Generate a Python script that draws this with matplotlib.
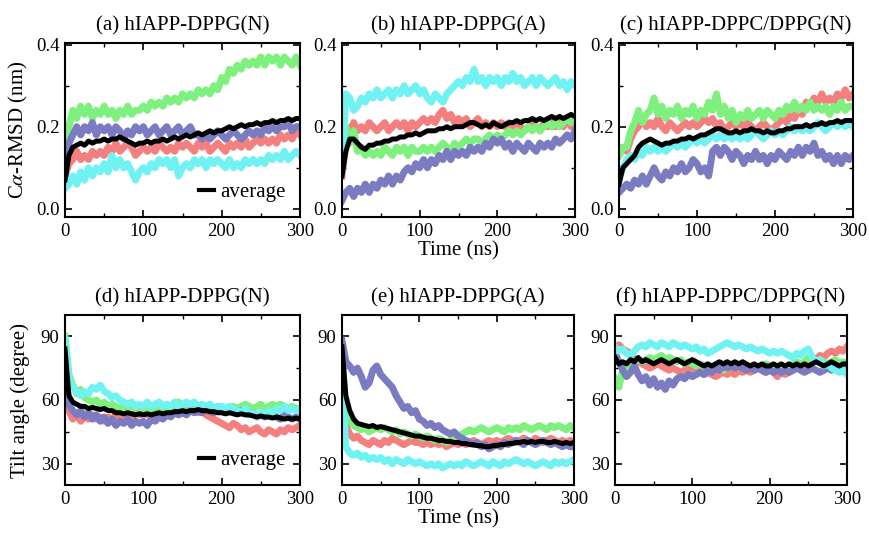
import numpy as np
import matplotlib.pyplot as plt
from matplotlib.ticker import MultipleLocator

# ---- data: values read every 5 ns from 0 to 300 ns -------------------
# (a) RMSD, hIAPP-DPPG(N)
A_RED = [0.08, 0.11, 0.12, 0.14, 0.12, 0.13, 0.12, 0.14, 0.13, 0.14, 0.13, 0.15, 0.14, 0.16, 0.14, 0.15,
         0.16, 0.15, 0.13, 0.14, 0.15, 0.14, 0.15, 0.14, 0.16, 0.15, 0.14, 0.15, 0.14, 0.16, 0.15, 0.16,
         0.15, 0.14, 0.16, 0.15, 0.16, 0.14, 0.15, 0.16, 0.15, 0.14, 0.16, 0.15, 0.16, 0.15, 0.17, 0.15,
         0.16, 0.17, 0.16, 0.17, 0.16, 0.17, 0.16, 0.18, 0.17, 0.18, 0.17, 0.19, 0.18]
A_GREEN = [0.10, 0.20, 0.24, 0.22, 0.25, 0.23, 0.25, 0.22, 0.24, 0.23, 0.25, 0.23, 0.24, 0.22, 0.24, 0.23,
           0.25, 0.23, 0.24, 0.24, 0.25, 0.24, 0.26, 0.25, 0.26, 0.25, 0.27, 0.26, 0.27, 0.26, 0.28, 0.27,
           0.28, 0.27, 0.29, 0.28, 0.29, 0.28, 0.30, 0.29, 0.32, 0.31, 0.34, 0.33, 0.35, 0.34, 0.36, 0.35,
           0.36, 0.35, 0.37, 0.35, 0.37, 0.36, 0.37, 0.35, 0.37, 0.36, 0.35, 0.37, 0.35]
A_BLUE = [0.07, 0.16, 0.18, 0.20, 0.18, 0.20, 0.19, 0.21, 0.18, 0.20, 0.19, 0.20, 0.18, 0.20, 0.19, 0.17,
          0.19, 0.18, 0.20, 0.19, 0.20, 0.18, 0.19, 0.20, 0.18, 0.19, 0.20, 0.18, 0.19, 0.20, 0.18, 0.19,
          0.20, 0.18, 0.18, 0.17, 0.18, 0.17, 0.18, 0.19, 0.18, 0.17, 0.18, 0.19, 0.18, 0.17, 0.18, 0.19,
          0.18, 0.19, 0.18, 0.20, 0.19, 0.20, 0.19, 0.20, 0.20, 0.21, 0.19, 0.20, 0.20]
A_CYAN = [0.05, 0.06, 0.08, 0.06, 0.09, 0.07, 0.10, 0.08, 0.10, 0.09, 0.11, 0.09, 0.13, 0.10, 0.12, 0.10,
          0.11, 0.09, 0.07, 0.09, 0.10, 0.09, 0.11, 0.10, 0.12, 0.11, 0.12, 0.10, 0.12, 0.08, 0.10, 0.11,
          0.10, 0.12, 0.11, 0.12, 0.10, 0.12, 0.11, 0.12, 0.11, 0.10, 0.12, 0.10, 0.11, 0.10, 0.12, 0.11,
          0.12, 0.11, 0.12, 0.11, 0.13, 0.12, 0.13, 0.12, 0.14, 0.12, 0.13, 0.14, 0.13]
A_AVG = [0.07, 0.13, 0.15, 0.155, 0.16, 0.155, 0.165, 0.16, 0.165, 0.165, 0.17, 0.165, 0.17, 0.17, 0.175,
         0.17, 0.165, 0.16, 0.155, 0.16, 0.16, 0.165, 0.16, 0.165, 0.165, 0.17, 0.165, 0.17, 0.175, 0.17,
         0.175, 0.18, 0.175, 0.18, 0.185, 0.18, 0.185, 0.19, 0.185, 0.19, 0.19, 0.195, 0.20, 0.195, 0.20,
         0.205, 0.20, 0.205, 0.205, 0.21, 0.205, 0.21, 0.21, 0.215, 0.21, 0.215, 0.215, 0.22, 0.215, 0.22, 0.22]

# (b) RMSD, hIAPP-DPPG(A)
B_RED = [0.08, 0.16, 0.19, 0.21, 0.19, 0.20, 0.19, 0.21, 0.20, 0.19, 0.20, 0.21, 0.19, 0.20, 0.21, 0.20,
         0.21, 0.19, 0.21, 0.20, 0.21, 0.22, 0.21, 0.22, 0.21, 0.23, 0.24, 0.22, 0.23, 0.21, 0.22, 0.21,
         0.22, 0.20, 0.21, 0.22, 0.20, 0.21, 0.20, 0.21, 0.20, 0.21, 0.20, 0.21, 0.20, 0.21, 0.20, 0.19,
         0.20, 0.21, 0.20, 0.19, 0.21, 0.20, 0.21, 0.20, 0.21, 0.20, 0.22, 0.20, 0.21]
B_GREEN = [0.10, 0.20, 0.16, 0.19, 0.14, 0.15, 0.13, 0.14, 0.13, 0.14, 0.13, 0.15, 0.14, 0.13, 0.15, 0.14,
           0.15, 0.13, 0.15, 0.14, 0.14, 0.15, 0.14, 0.15, 0.14, 0.15, 0.16, 0.15, 0.14, 0.16, 0.15, 0.16,
           0.17, 0.16, 0.17, 0.17, 0.16, 0.17, 0.18, 0.17, 0.18, 0.17, 0.18, 0.19, 0.18, 0.19, 0.18, 0.19,
           0.20, 0.19, 0.20, 0.19, 0.20, 0.21, 0.20, 0.21, 0.20, 0.21, 0.22, 0.21, 0.22]
B_BLUE = [0.02, 0.04, 0.05, 0.03, 0.05, 0.04, 0.06, 0.04, 0.06, 0.05, 0.07, 0.06, 0.08, 0.06, 0.08, 0.07,
          0.09, 0.10, 0.09, 0.11, 0.10, 0.12, 0.10, 0.12, 0.11, 0.13, 0.12, 0.14, 0.12, 0.14, 0.13, 0.14,
          0.13, 0.15, 0.14, 0.15, 0.14, 0.16, 0.15, 0.17, 0.16, 0.17, 0.15, 0.16, 0.14, 0.16, 0.15, 0.14,
          0.16, 0.15, 0.14, 0.16, 0.15, 0.16, 0.15, 0.17, 0.16, 0.17, 0.18, 0.17, 0.19]
B_CYAN = [0.10, 0.28, 0.27, 0.24, 0.25, 0.27, 0.26, 0.28, 0.27, 0.29, 0.27, 0.28, 0.29, 0.27, 0.29, 0.28,
          0.30, 0.28, 0.29, 0.30, 0.28, 0.29, 0.27, 0.26, 0.28, 0.27, 0.26, 0.28, 0.29, 0.30, 0.31, 0.30,
          0.32, 0.31, 0.34, 0.31, 0.32, 0.30, 0.32, 0.31, 0.32, 0.30, 0.32, 0.31, 0.33, 0.31, 0.32, 0.30,
          0.31, 0.32, 0.30, 0.32, 0.31, 0.30, 0.31, 0.32, 0.30, 0.31, 0.29, 0.31, 0.30]
B_AVG = [0.08, 0.14, 0.17, 0.17, 0.16, 0.15, 0.145, 0.155, 0.155, 0.16, 0.16, 0.165, 0.165, 0.17, 0.17,
         0.175, 0.175, 0.18, 0.18, 0.185, 0.18, 0.185, 0.19, 0.19, 0.19, 0.195, 0.195, 0.20, 0.195, 0.20,
         0.20, 0.20, 0.205, 0.21, 0.21, 0.205, 0.20, 0.205, 0.20, 0.21, 0.205, 0.20, 0.205, 0.21, 0.21,
         0.215, 0.21, 0.215, 0.215, 0.22, 0.215, 0.22, 0.215, 0.22, 0.225, 0.22, 0.225, 0.22, 0.225, 0.23, 0.225]

# (c) RMSD, hIAPP-DPPC/DPPG(N)
C_RED = [0.13, 0.15, 0.14, 0.17, 0.19, 0.20, 0.22, 0.20, 0.21, 0.20, 0.22, 0.20, 0.19, 0.21, 0.20, 0.19,
         0.20, 0.21, 0.20, 0.21, 0.20, 0.21, 0.22, 0.21, 0.22, 0.20, 0.21, 0.19, 0.20, 0.21, 0.20, 0.21,
         0.20, 0.21, 0.20, 0.19, 0.20, 0.21, 0.20, 0.19, 0.20, 0.21, 0.22, 0.21, 0.23, 0.22, 0.24, 0.23,
         0.26, 0.25, 0.27, 0.26, 0.28, 0.26, 0.27, 0.26, 0.28, 0.27, 0.29, 0.27, 0.28]
C_GREEN = [0.13, 0.15, 0.15, 0.19, 0.21, 0.24, 0.21, 0.23, 0.24, 0.27, 0.23, 0.25, 0.22, 0.24, 0.23, 0.25,
           0.22, 0.24, 0.23, 0.25, 0.22, 0.24, 0.23, 0.26, 0.24, 0.28, 0.23, 0.25, 0.22, 0.24, 0.21, 0.23,
           0.22, 0.24, 0.22, 0.23, 0.24, 0.22, 0.24, 0.23, 0.22, 0.24, 0.23, 0.25, 0.24, 0.26, 0.24, 0.25,
           0.24, 0.26, 0.24, 0.25, 0.24, 0.25, 0.23, 0.25, 0.24, 0.26, 0.24, 0.25, 0.25]
C_BLUE = [0.04, 0.05, 0.06, 0.05, 0.07, 0.06, 0.08, 0.06, 0.08, 0.10, 0.08, 0.07, 0.09, 0.08, 0.10, 0.09,
          0.11, 0.09, 0.10, 0.12, 0.11, 0.09, 0.10, 0.08, 0.14, 0.15, 0.13, 0.15, 0.14, 0.12, 0.14, 0.13,
          0.11, 0.13, 0.12, 0.14, 0.12, 0.13, 0.11, 0.13, 0.12, 0.14, 0.13, 0.12, 0.14, 0.13, 0.15, 0.13,
          0.15, 0.14, 0.16, 0.13, 0.14, 0.12, 0.13, 0.11, 0.13, 0.11, 0.13, 0.12, 0.13]
C_CYAN = [0.07, 0.10, 0.12, 0.13, 0.12, 0.14, 0.13, 0.15, 0.14, 0.15, 0.14, 0.15, 0.14, 0.15, 0.16, 0.15,
          0.16, 0.15, 0.16, 0.17, 0.16, 0.17, 0.16, 0.17, 0.18, 0.17, 0.18, 0.17, 0.18, 0.17, 0.18, 0.17,
          0.18, 0.17, 0.18, 0.19, 0.18, 0.17, 0.18, 0.19, 0.18, 0.19, 0.18, 0.19, 0.20, 0.19, 0.20, 0.19,
          0.20, 0.19, 0.20, 0.21, 0.20, 0.19, 0.20, 0.21, 0.20, 0.21, 0.20, 0.21, 0.20]
C_AVG = [0.06, 0.10, 0.11, 0.12, 0.13, 0.15, 0.16, 0.165, 0.17, 0.165, 0.16, 0.155, 0.16, 0.16, 0.165,
         0.165, 0.17, 0.17, 0.175, 0.17, 0.175, 0.18, 0.18, 0.185, 0.19, 0.195, 0.195, 0.19, 0.185, 0.185,
         0.19, 0.185, 0.19, 0.19, 0.195, 0.19, 0.19, 0.185, 0.19, 0.185, 0.185, 0.19, 0.19, 0.195, 0.195,
         0.20, 0.20, 0.20, 0.205, 0.20, 0.205, 0.205, 0.21, 0.205, 0.21, 0.21, 0.215, 0.21, 0.215, 0.215, 0.215]

# (d) tilt angle, hIAPP-DPPG(N)
D_RED = [80, 55, 51, 53, 50, 52, 51, 53, 51, 52, 50, 52, 51, 53, 52, 51, 53, 52, 54, 53, 54, 53, 55, 54,
         53, 55, 54, 55, 54, 56, 55, 54, 56, 55, 54, 55, 53, 52, 51, 50, 49, 48, 47, 49, 48, 46, 47, 45,
         46, 47, 45, 44, 46, 45, 44, 46, 45, 47, 46, 47, 48]
D_GREEN = [90, 72, 67, 63, 65, 61, 60, 59, 60, 58, 59, 57, 58, 57, 56, 57, 56, 57, 56, 57, 56, 57, 55, 56,
           57, 56, 57, 56, 58, 59, 57, 56, 57, 56, 57, 56, 57, 55, 56, 57, 56, 55, 56, 57, 56, 57, 58, 57,
           56, 57, 58, 56, 57, 58, 57, 58, 57, 56, 57, 56, 56]
D_BLUE = [75, 58, 55, 53, 55, 52, 54, 51, 53, 50, 52, 49, 51, 48, 50, 49, 51, 48, 50, 49, 50, 48, 51, 50,
          52, 51, 53, 52, 54, 53, 54, 53, 55, 54, 55, 54, 56, 55, 54, 56, 55, 54, 56, 55, 54, 55, 54, 53,
          54, 52, 53, 52, 54, 53, 52, 51, 53, 52, 51, 52, 51]
D_CYAN = [88, 70, 66, 64, 62, 64, 63, 66, 65, 67, 64, 63, 61, 62, 60, 59, 58, 59, 57, 58, 57, 59, 57, 58,
          59, 57, 58, 57, 59, 57, 58, 59, 58, 59, 57, 58, 57, 58, 56, 57, 57, 56, 57, 56, 55, 54, 56, 53,
          54, 52, 54, 53, 55, 54, 56, 55, 57, 55, 56, 55, 56]
D_AVG = [84, 62, 59, 58, 57, 57, 56, 56.5, 56, 55.5, 56, 55, 55, 54, 54, 53.5, 54, 53.5, 53, 53.5, 53, 53.5,
         53, 53.5, 54, 53.5, 54, 54, 54.5, 54.5, 55, 54.5, 55, 55, 55.5, 55, 55, 54.5, 54.5, 54, 54, 53.5,
         54, 53.5, 53, 53.5, 53, 53, 52.5, 52, 52.5, 52, 52, 51.5, 52, 51.5, 51, 51.5, 51, 51.5, 51]

# (e) tilt angle, hIAPP-DPPG(A)
E_RED = [75, 48, 44, 42, 43, 41, 40, 39, 41, 40, 39, 41, 40, 42, 41, 40, 39, 40, 41, 40, 40, 39, 40, 39,
         40, 39, 40, 38, 39, 40, 39, 40, 39, 40, 41, 40, 39, 40, 41, 40, 41, 40, 41, 42, 41, 40, 41, 42,
         41, 40, 42, 41, 40, 41, 42, 41, 40, 41, 40, 41, 40]
E_GREEN = [80, 55, 51, 48, 47, 46, 47, 45, 46, 47, 46, 47, 46, 45, 46, 44, 45, 44, 43, 44, 43, 42, 43, 42,
           41, 42, 41, 40, 41, 42, 43, 44, 45, 46, 45, 46, 47, 46, 45, 46, 47, 46, 45, 47, 46, 47, 46, 48,
           47, 46, 47, 48, 47, 46, 48, 47, 48, 47, 46, 48, 47]
E_BLUE = [88, 78, 76, 73, 75, 71, 66, 68, 74, 76, 72, 70, 68, 66, 62, 59, 56, 57, 54, 55, 51, 50, 48, 49,
          47, 48, 46, 45, 44, 45, 43, 42, 41, 40, 39, 40, 38, 39, 37, 38, 39, 38, 40, 39, 40, 41, 40, 39,
          41, 40, 39, 40, 41, 40, 39, 40, 39, 38, 39, 38, 38]
E_CYAN = [70, 38, 35, 34, 35, 33, 34, 32, 33, 32, 33, 31, 32, 30, 32, 31, 30, 32, 31, 30, 31, 30, 29, 30,
          29, 30, 28, 29, 30, 29, 30, 29, 31, 30, 29, 30, 31, 30, 29, 31, 30, 29, 31, 30, 31, 32, 31, 30,
          31, 30, 29, 30, 31, 30, 29, 31, 30, 31, 30, 31, 32]
E_AVG = [85, 62, 55, 51, 49, 48.5, 48, 47.5, 48, 47, 47.5, 47, 46.5, 46, 45.5, 45, 44.5, 44, 43.5, 43, 43,
         42.5, 42, 42, 41.5, 41, 41, 40.5, 40.5, 40, 40, 39.5, 39.5, 39, 39, 38.5, 38.5, 38, 38, 38.5, 38.5,
         39, 39, 39.5, 39.5, 40, 40, 40.5, 40, 40.5, 40, 40.5, 40.5, 40, 40, 40.5, 40, 39.5, 40, 39.5, 40]

# (f) tilt angle, hIAPP-DPPC/DPPG(N)
F_RED = [82, 86, 84, 83, 82, 79, 78, 77, 76, 75, 76, 77, 76, 75, 74, 75, 74, 73, 74, 75, 74, 73, 74, 72,
         73, 72, 71, 72, 73, 72, 73, 72, 74, 73, 74, 73, 74, 75, 74, 73, 74, 73, 71, 73, 72, 73, 74, 75,
         76, 75, 78, 80, 79, 81, 80, 82, 83, 82, 84, 83, 85]
F_GREEN = [70, 66, 74, 76, 77, 78, 79, 78, 79, 80, 79, 80, 81, 79, 80, 79, 78, 79, 77, 78, 77, 76, 77, 76,
           75, 74, 75, 76, 74, 75, 76, 75, 76, 77, 76, 75, 76, 75, 76, 77, 76, 75, 74, 76, 75, 76, 77, 78,
           77, 78, 80, 79, 78, 79, 78, 77, 78, 79, 77, 78, 77]
F_BLUE = [82, 78, 74, 71, 73, 76, 72, 69, 71, 67, 70, 66, 68, 65, 69, 67, 70, 71, 70, 72, 71, 72, 73, 72,
          74, 73, 75, 74, 76, 75, 76, 75, 76, 75, 74, 75, 74, 75, 74, 73, 74, 73, 74, 73, 74, 73, 74, 75,
          74, 73, 74, 75, 74, 73, 74, 75, 74, 75, 74, 75, 74]
F_CYAN = [85, 83, 84, 82, 81, 83, 85, 86, 85, 87, 86, 85, 87, 86, 85, 87, 86, 85, 86, 85, 84, 85, 83, 84,
          82, 83, 84, 85, 86, 87, 86, 85, 86, 85, 84, 85, 84, 83, 84, 83, 82, 83, 82, 83, 82, 81, 80, 82,
          81, 83, 84, 80, 78, 79, 76, 77, 75, 74, 73, 74, 72]
F_AVG = [80, 77, 78, 77, 79, 78, 80, 78, 79, 78, 77, 78, 79, 78, 77, 78, 79, 78, 77, 78, 79, 78, 77, 76,
         77, 76, 77, 78, 77, 78, 77, 78, 77, 78, 77, 76, 77, 76, 77, 76, 76, 77, 76, 77, 76, 77, 76, 77,
         76, 77, 76, 77, 78, 77, 76, 77, 78, 77, 76, 77, 77]

TITLES = ['(a) hIAPP-DPPG(N)', '(b) hIAPP-DPPG(A)', '(c) hIAPP-DPPC/DPPG(N)',
          '(d) hIAPP-DPPG(N)', '(e) hIAPP-DPPG(A)', '(f) hIAPP-DPPC/DPPG(N)']
PANELS = [
    (A_RED, A_GREEN, A_BLUE, A_CYAN, A_AVG),
    (B_RED, B_GREEN, B_BLUE, B_CYAN, B_AVG),
    (C_RED, C_GREEN, C_BLUE, C_CYAN, C_AVG),
    (D_RED, D_GREEN, D_BLUE, D_CYAN, D_AVG),
    (E_RED, E_GREEN, E_BLUE, E_CYAN, E_AVG),
    (F_RED, F_GREEN, F_BLUE, F_CYAN, F_AVG),
]
COLORS = ['#f47f7f', '#7ef07e', '#7b7bc2', '#70f2f2']

plt.rcParams['font.family'] = ['Liberation Serif', 'DejaVu Serif']
plt.rcParams['mathtext.fontset'] = 'stix'

fig = plt.figure(figsize=(8.69, 5.35), dpi=100)
W, H = 869, 535
# axes boxes in pixels: left, top, right, bottom
BOXES = [(65, 43, 300, 217), (342, 43, 575, 217), (619, 43, 853, 217),
         (65, 315, 300, 485), (342, 315, 574, 485), (615, 315, 847, 485)]

for i, (box, title, series) in enumerate(zip(BOXES, TITLES, PANELS)):
    l, t, r, b = box
    ax = fig.add_axes([l / W, 1 - b / H, (r - l) / W, (b - t) / H])
    for vals, c in zip(series[:4], COLORS):
        ax.plot(np.linspace(0, 300, len(vals)), vals, color=c, lw=5.0,
                solid_joinstyle='round')
    avg = series[4]
    ax.plot(np.linspace(0, 300, len(avg)), avg, color='black', lw=3.6,
            solid_joinstyle='round', label='average')

    ax.set_xlim(0, 300)
    ax.xaxis.set_major_locator(MultipleLocator(100))
    ax.xaxis.set_minor_locator(MultipleLocator(50))
    if i < 3:
        ax.set_ylim(-0.02, 0.404)
        ax.yaxis.set_major_locator(MultipleLocator(0.2))
        ax.yaxis.set_minor_locator(MultipleLocator(0.1))
        ax.yaxis.set_major_formatter(lambda v, p: f'{v:.1f}')
    else:
        ax.set_ylim(20, 100)
        ax.yaxis.set_major_locator(MultipleLocator(30))
        ax.yaxis.set_minor_locator(MultipleLocator(15))
    ax.tick_params(which='both', direction='in', top=True, right=True, labelsize=13.5, pad=4)
    ax.tick_params(which='major', length=5, width=1.2)
    ax.tick_params(which='minor', length=3, width=1.0)
    for sp in ax.spines.values():
        sp.set_linewidth(1.5)
        sp.set_zorder(5)
    ax.set_title(title, fontsize=15, pad=9)

    if i in (0, 3):
        leg = ax.legend(loc='lower right', frameon=False, fontsize=15, handlelength=0.7,
                        handletextpad=0.3, borderaxespad=0.3)
        leg.get_lines()[0].set_linewidth(3.0)
    if i == 0:
        ax.set_ylabel(r'C$\alpha$-RMSD (nm)', fontsize=15, labelpad=4)
    if i == 3:
        ax.set_ylabel('Tilt angle (degree)', fontsize=15, labelpad=8)
    if i in (1, 4):
        ax.set_xlabel('Time (ns)', fontsize=15, labelpad=1)

fig.savefig('out.png', dpi=100)
